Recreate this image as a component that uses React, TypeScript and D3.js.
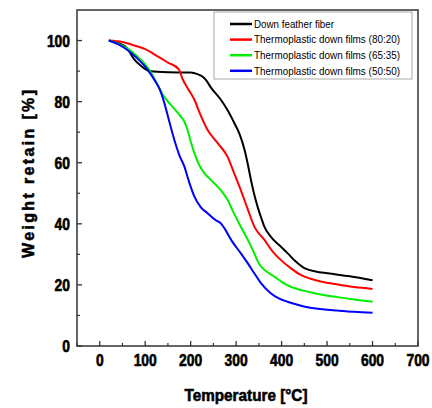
import React from "react";
import * as d3 from "d3";

const seriesNames = [
  "Down feather fiber",
  "Thermoplastic down films (80:20)",
  "Thermoplastic down films (65:35)",
  "Thermoplastic down films (50:50)",
];
const seriesColors = ["#000000", "#ff0000", "#00ee00", "#0000ff"];
const legendWidths = [80, 146, 146, 146];

const blackCurve: [number, number][] = [
  [20, 100], [40, 99.2], [60, 97.5], [75, 94], [90, 91.8], [110, 90], [150, 89.6],
  [200, 89.5], [215, 89], [225, 88.3], [233, 87.2], [245, 84.5], [266, 80.7],
  [280, 77.5], [296, 73], [308, 69.2], [318, 64.5], [325, 60], [332, 54.8],
  [340, 49.5], [347, 45.7], [355, 42], [362, 39.1], [376, 35.8], [395, 33],
  [413, 30.4], [430, 27.8], [450, 25.5], [475, 24.4], [501, 23.8], [550, 22.8],
  [600, 21.5],
];
const redCurve: [number, number][] = [
  [20, 100], [50, 99.5], [80, 98.2], [100, 97.2], [120, 95.5], [150, 92.8], [174, 90.6],
  [182, 87.5], [195, 84], [208, 80.7], [222, 75.5], [237, 70.8], [259, 66.5],
  [281, 62], [295, 56.8], [310, 51.1], [325, 45], [340, 39.1], [362, 34.8],
  [380, 31], [398, 28.2], [420, 25.5], [442, 23.3], [464, 22], [486, 21.1],
  [530, 20], [560, 19.3], [600, 18.7],
];
const greenCurve: [number, number][] = [
  [20, 100], [40, 99], [60, 97.5], [80, 95.2], [100, 92.2], [115, 89], [127, 85.6],
  [140, 82], [156, 79], [178, 75.2], [186, 73.5], [193, 70.8], [200, 67], [208, 63.2],
  [218, 59.5], [230, 56.6], [245, 54.3], [259, 52.2], [270, 50.3], [281, 47.9],
  [295, 43.5], [310, 39.1], [325, 35], [338, 31], [350, 27], [365, 24.6],
  [384, 22.7], [400, 21], [420, 19.4], [445, 18.2], [472, 17.3], [523, 16],
  [560, 15.2], [600, 14.5],
];
const blueCurve: [number, number][] = [
  [20, 100], [40, 98.8], [60, 97], [80, 94.5], [95, 92.3], [105, 90.5], [120, 87.2],
  [132, 84], [142, 79.6], [153, 73.5], [164, 67.5], [175, 62.5], [186, 58.8],
  [197, 53.5], [208, 49], [222, 45.5], [237, 43.5], [255, 41.2], [266, 40.2],
  [274, 38.6], [290, 34.5], [310, 30.4], [325, 27.2], [340, 23.8], [355, 20.5],
  [376, 17.3], [395, 15.5], [413, 14.5], [435, 13.5], [457, 12.7], [490, 12],
  [523, 11.6], [560, 11.2], [600, 10.9],
];
const curves = [blackCurve, redCurve, greenCurve, blueCurve];

const xTicks = [0, 100, 200, 300, 400, 500, 600, 700];
const xMinorTicks = [-50, 50, 150, 250, 350, 450, 550, 650];
const yTicks = [0, 20, 40, 60, 80, 100];
const yMinorTicks = [10, 30, 50, 70, 90];

const width = 432;
const height = 408;
const margin = { left: 77, right: 14, top: 10, bottom: 62 };

export default function App() {
  const x = d3
    .scaleLinear()
    .domain([-50, 700])
    .range([margin.left, width - margin.right]);
  const y = d3
    .scaleLinear()
    .domain([0, 110])
    .range([height - margin.bottom, margin.top]);

  const line = d3
    .line<[number, number]>()
    .x((d) => x(d[0]))
    .y((d) => y(d[1]))
    .curve(d3.curveMonotoneX);

  const bottom = height - margin.bottom;
  const labelFont = "'Liberation Sans', Arial, sans-serif";

  return (
    <svg
      width={width}
      height={height}
      style={{ position: "absolute", left: 0, top: 0, background: "#fff" }}
    >
      <g>
        {curves.map((c, i) => (
          <path
            key={i}
            d={line(c) ?? ""}
            fill="none"
            stroke={seriesColors[i]}
            strokeWidth={2}
          />
        ))}
      </g>

      {/* frame */}
      <rect
        x={margin.left}
        y={margin.top}
        width={width - margin.left - margin.right}
        height={bottom - margin.top}
        fill="none"
        stroke="#333"
        strokeWidth={1.5}
      />

      {/* x ticks */}
      <g>
        {xTicks.map((t) => (
          <g key={t}>
            <line x1={x(t)} x2={x(t)} y1={bottom} y2={bottom - 5} stroke="#333" strokeWidth={1.3} />
            <text
              x={x(t)}
              y={366}
              textAnchor="middle"
              fontFamily={labelFont}
              fontWeight="bold"
              fontSize={16}
              stroke="#000"
              strokeWidth={0.6}
              textLength={String(t).length * 7.7}
              lengthAdjust="spacingAndGlyphs"
              fill="#000"
            >
              {t}
            </text>
          </g>
        ))}
        {xMinorTicks.map((t) => (
          <line key={t} x1={x(t)} x2={x(t)} y1={bottom} y2={bottom - 3} stroke="#333" strokeWidth={1.2} />
        ))}
      </g>

      {/* y ticks */}
      <g>
        {yTicks.map((t) => (
          <g key={t}>
            <line x1={margin.left} x2={margin.left + 5} y1={y(t)} y2={y(t)} stroke="#333" strokeWidth={1.3} />
            <text
              x={70}
              y={y(t) + 6}
              textAnchor="end"
              fontFamily={labelFont}
              fontWeight="bold"
              fontSize={16}
              stroke="#000"
              strokeWidth={0.6}
              textLength={String(t).length * 7.7}
              lengthAdjust="spacingAndGlyphs"
              fill="#000"
            >
              {t}
            </text>
          </g>
        ))}
        {yMinorTicks.map((t) => (
          <line key={t} x1={margin.left} x2={margin.left + 3} y1={y(t)} y2={y(t)} stroke="#333" strokeWidth={1.2} />
        ))}
      </g>

      {/* axis titles */}
      <text
        x={246}
        y={401}
        textAnchor="middle"
        fontFamily={labelFont}
        fontWeight="bold"
        fontSize={17}
        stroke="#000"
        strokeWidth={0.6}
        textLength={123}
        lengthAdjust="spacingAndGlyphs"
      >
        Temperature [°C]
      </text>
      <text
        transform="translate(34,174) rotate(-90)"
        textAnchor="middle"
        fontFamily={labelFont}
        fontWeight="bold"
        fontSize={16}
        stroke="#000"
        strokeWidth={0.5}
        textLength={168}
        lengthAdjust="spacing"
      >
        Weight retain [%]
      </text>

      {/* legend */}
      <g>
        <rect x={214} y={12} width={198} height={67} fill="#fff" stroke="#aaa" strokeWidth={1} />
        {seriesNames.map((name, i) => {
          const ly = 24 + i * 15.6;
          return (
            <g key={name}>
              <line x1={230} x2={252} y1={ly} y2={ly} stroke={seriesColors[i]} strokeWidth={2.5} />
              <text
                x={254}
                y={ly + 3.8}
                fontFamily={labelFont}
                fontSize={11}
                textLength={legendWidths[i]}
                lengthAdjust="spacingAndGlyphs"
                fill="#000"
              >
                {name}
              </text>
            </g>
          );
        })}
      </g>
    </svg>
  );
}
